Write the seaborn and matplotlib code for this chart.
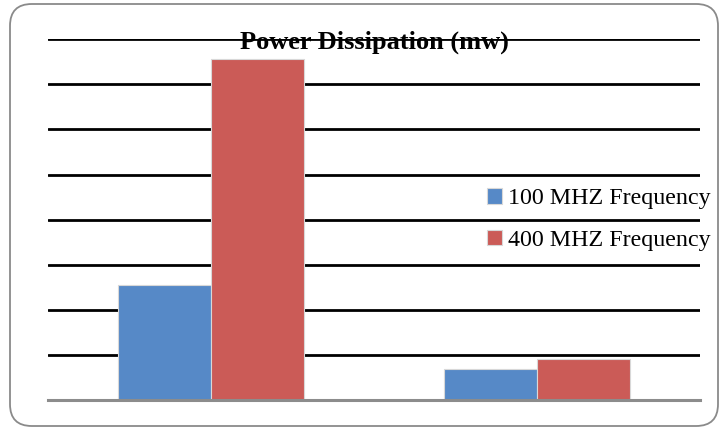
import matplotlib
matplotlib.use("Agg")
import matplotlib.pyplot as plt
from matplotlib.patches import FancyBboxPatch
import seaborn as sns
import pandas as pd

categories = ["Design A", "Design B"]
series = ["100 MHZ Frequency", "400 MHZ Frequency"]
values_100 = [2.55, 0.69]
values_400 = [7.56, 0.90]
colors = ["#5689C7", "#CB5B57"]

df = pd.DataFrame({
    "category": categories * 2,
    "series": [series[0]] * len(categories) + [series[1]] * len(categories),
    "value": values_100 + values_400,
})

sns.set_theme(style="white")
plt.rcParams["font.family"] = ["Liberation Serif", "DejaVu Serif"]
plt.rcParams["text.color"] = "black"

fig = plt.figure(figsize=(7.27, 4.30), dpi=100)
ax = fig.add_axes([48/727, 30/430, 652/727, 360.7/430])

# rounded border around the chart
border = FancyBboxPatch((10/727, 4/430), 708/727, 422/430,
                        boxstyle="round,pad=0,rounding_size=0.03",
                        transform=fig.transFigure, facecolor="none",
                        edgecolor="#8a8a8a", linewidth=1.3, mutation_aspect=727/430)
fig.patches.append(border)

sns.barplot(data=df, x="category", y="value", hue="series", palette=colors,
            width=0.57, ax=ax, saturation=1, edgecolor="#d8d8d8", linewidth=0.8,
            zorder=3)

ax.set_ylim(0, 8)
ax.set_xlim(-0.5, 1.5)
ax.set_yticks(range(1, 9))
ax.yaxis.grid(True, color="black", linewidth=2.0, zorder=1)
ax.set_axisbelow(True)
ax.tick_params(left=False, bottom=False, labelleft=False, labelbottom=False)
for s in ["top", "right", "left"]:
    ax.spines[s].set_visible(False)
ax.spines["bottom"].set_color("#8c8c8c")
ax.spines["bottom"].set_linewidth(2.2)
ax.spines["bottom"].set_zorder(4)
ax.set_xlabel("")
ax.set_ylabel("")

ax.text(0.5, 7.93, "Power Dissipation (mw)", transform=ax.transData,
        ha="center", va="center", fontsize=19, fontweight="bold",
        color="black", zorder=5)

leg = ax.legend(loc="center left", bbox_to_anchor=(0.659, 0.5), frameon=False,
                fontsize=17.3, handlelength=0.6, handleheight=0.6,
                handletextpad=0.25, labelspacing=0.85, borderaxespad=0)
for t in leg.get_texts():
    t.set_color("black")

fig.savefig("out.png", dpi=100)
